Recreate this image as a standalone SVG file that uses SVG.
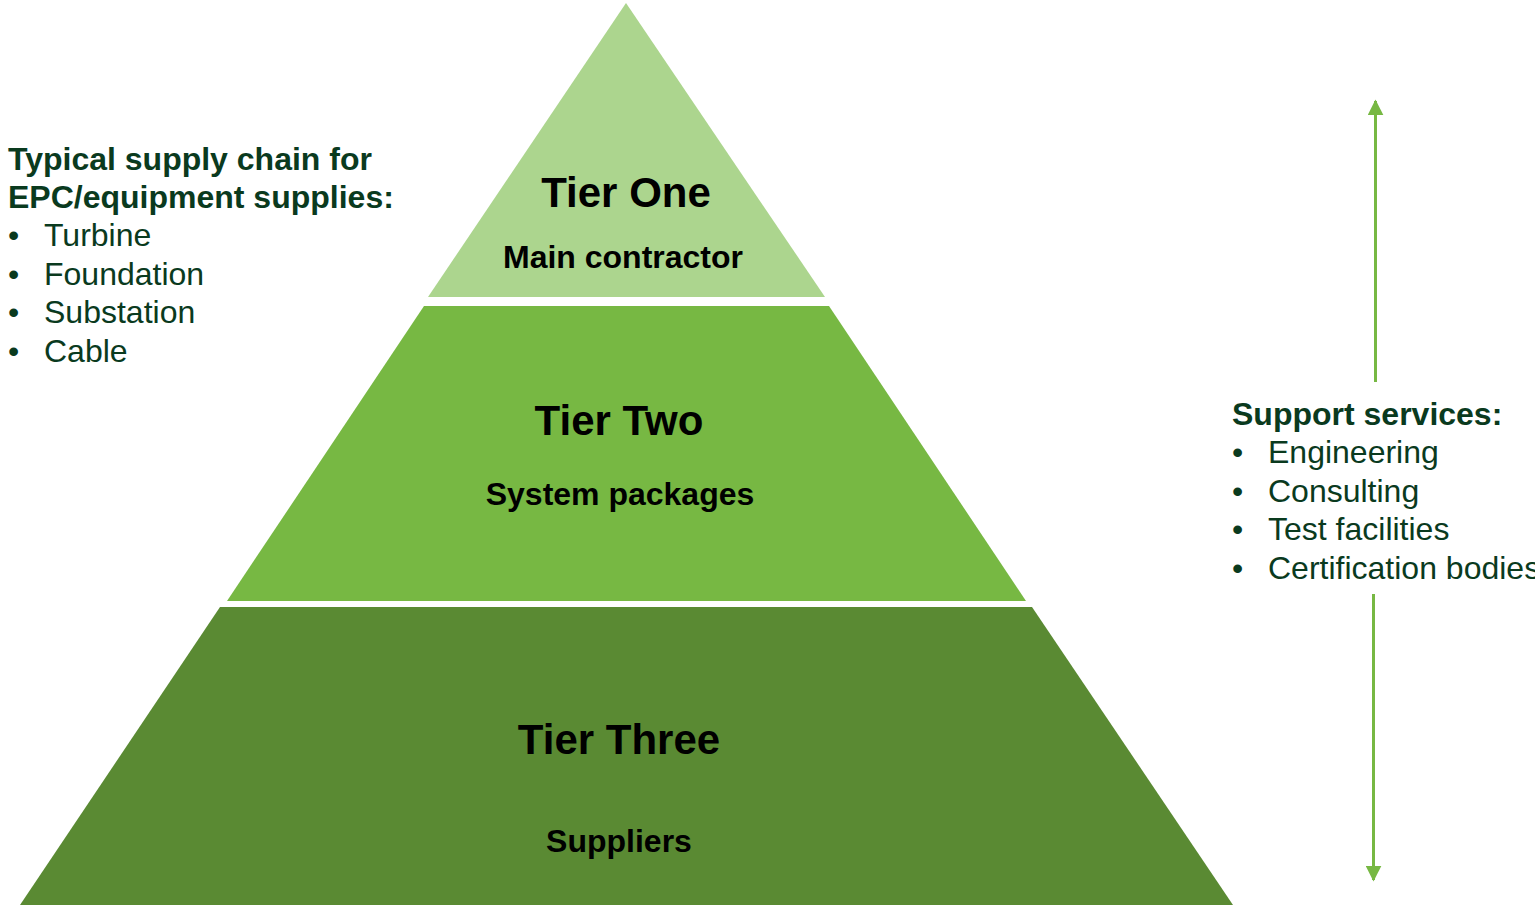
<svg xmlns="http://www.w3.org/2000/svg" width="1535" height="907" viewBox="0 0 1535 907">
<style>
.t{font-family:"Liberation Sans",Arial,sans-serif;font-weight:bold;fill:#000;text-anchor:middle}
.h{font-size:42px}
.s{font-size:32px}
.side{font-family:"Liberation Sans",Arial,sans-serif;font-size:32px;fill:#0a3a1e}
.b{font-weight:bold}
.arr{stroke:#77b843;stroke-width:3;fill:none}
</style>
<defs>
<marker id="ah" viewBox="0 0 10 10" refX="9" refY="5" markerWidth="16" markerHeight="16" markerUnits="userSpaceOnUse" orient="auto">
<path d="M0,0 L10,5 L0,10 Z" fill="#77b843"/>
</marker>
</defs>
<rect width="1535" height="907" fill="#fff"/>
<g id="tier1">
<polygon points="626,3 825,297 428,297" fill="#acd58e"/>
<text class="t h" x="626" y="207">Tier One</text>
<text class="t s" x="623" y="268">Main contractor</text>
</g>
<g id="tier2">
<polygon points="424,306 829,306 1026,601 227,601" fill="#77b843"/>
<text class="t h" x="619" y="435">Tier Two</text>
<text class="t s" x="620" y="505">System packages</text>
</g>
<g id="tier3">
<polygon points="220,607 1032,607 1233,905 20,905" fill="#5a8a33"/>
<text class="t h" x="619" y="754">Tier Three</text>
<text class="t s" x="619" y="852">Suppliers</text>
</g>
<g id="supply-chain-text">
<text class="side b" x="8" y="170">Typical supply chain for</text>
<text class="side b" x="8" y="208">EPC/equipment supplies:</text>
<text class="side" x="8" y="246">•</text><text class="side" x="44" y="246">Turbine</text>
<text class="side" x="8" y="285">•</text><text class="side" x="44" y="285">Foundation</text>
<text class="side" x="8" y="323">•</text><text class="side" x="44" y="323">Substation</text>
<text class="side" x="8" y="362">•</text><text class="side" x="44" y="362">Cable</text>
</g>
<g id="support-services">
<text class="side b" x="1232" y="425">Support services:</text>
<text class="side" x="1232" y="463">•</text><text class="side" x="1268" y="463">Engineering</text>
<text class="side" x="1232" y="502">•</text><text class="side" x="1268" y="502">Consulting</text>
<text class="side" x="1232" y="540">•</text><text class="side" x="1268" y="540">Test facilities</text>
<text class="side" x="1232" y="579">•</text><text class="side" x="1268" y="579">Certification bodies</text>
</g>
<g id="connectors">
<line class="arr" x1="1375.5" y1="382" x2="1375.5" y2="101" marker-end="url(#ah)"/>
<line class="arr" x1="1373.5" y1="594" x2="1373.5" y2="880" marker-end="url(#ah)"/>
</g>
</svg>
